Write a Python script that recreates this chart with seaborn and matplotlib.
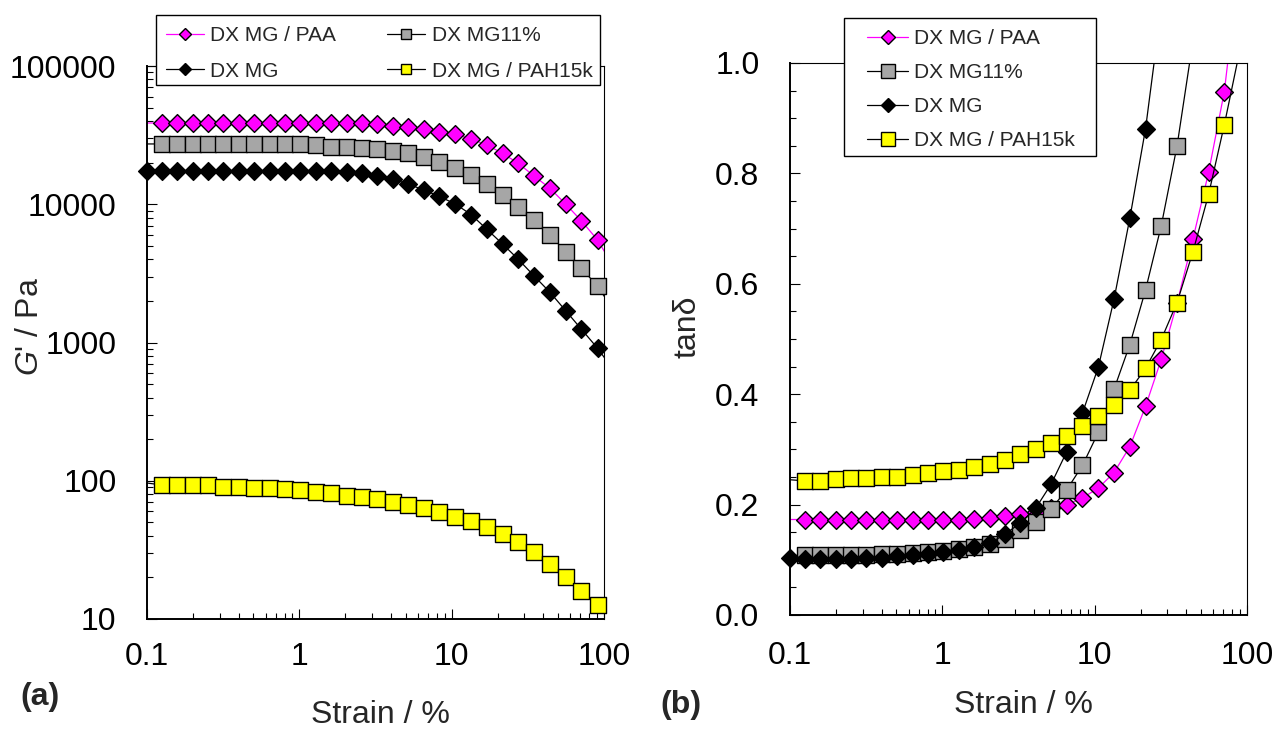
import numpy as np
import matplotlib
matplotlib.use("Agg")
import matplotlib.pyplot as plt
import seaborn as sns
from matplotlib.lines import Line2D
from matplotlib.patches import Rectangle
from matplotlib.ticker import LogLocator, MultipleLocator, NullFormatter

# ---------------- data ----------------
strain = [0.1, 0.1253, 0.1581, 0.1995, 0.2518, 0.3177, 0.4009, 0.5058, 0.6383, 0.8054,
          1.016, 1.282, 1.618, 2.042, 2.576, 3.251, 4.093, 5.176, 6.561, 8.318,
          10.57, 13.40, 17.02, 21.58, 27.35, 34.75, 44.16, 55.98, 70.96, 90.8, 114.3]

labels = ["DX MG / PAA", "DX MG11%", "DX MG", "DX MG / PAH15k"]

# storage modulus G' (Pa), panel (a)
gp_paa = [38700, 38700, 38700, 38700, 38700, 38700, 38700, 38700, 38700, 38700,
          38700, 38700, 38700, 38700, 38700, 38060, 36810, 36020, 34840, 33470,
          32060, 29650, 26830, 23360, 19780, 16010, 13050, 10040, 7600, 5510, 3600]
gp_mg11 = [27300, 27300, 27300, 27300, 27300, 27300, 27300, 27300, 27300, 27300,
           27300, 26700, 26100, 26000, 25700, 25100, 24400, 23400, 21900, 20300,
           18400, 16300, 13900, 11700, 9600, 7700, 6000, 4540, 3440, 2560, 1730]
gp_mg = [17540, 17540, 17540, 17540, 17540, 17540, 17540, 17540, 17540, 17540,
         17540, 17540, 17540, 17250, 16830, 16140, 15230, 14010, 12680, 11380,
         10040, 8430, 6590, 5160, 4000, 3030, 2310, 1700, 1250, 908, 640]
gp_pah = [96.3, 93.2, 93.2, 93.2, 93.2, 90.6, 90.6, 89.1, 88.2, 86.7,
          85.3, 83.3, 81.2, 78.0, 75.9, 73.4, 70.2, 66.8, 63.2, 59.1,
          55.0, 51.2, 46.5, 41.2, 36.1, 30.4, 24.9, 20.0, 15.9, 12.6]

# loss tangent, panel (b)
tan_paa = [0.173, 0.173, 0.173, 0.173, 0.173, 0.173, 0.173, 0.173, 0.173, 0.173,
           0.173, 0.173, 0.174, 0.176, 0.180, 0.183, 0.187, 0.193, 0.200, 0.212,
           0.230, 0.258, 0.305, 0.378, 0.463, 0.565, 0.681, 0.802, 0.948, 1.20]
tan_mg11 = [0.108, 0.108, 0.109, 0.109, 0.109, 0.109, 0.111, 0.111, 0.112, 0.114,
            0.116, 0.120, 0.123, 0.129, 0.138, 0.154, 0.168, 0.192, 0.227, 0.271,
            0.331, 0.409, 0.490, 0.589, 0.705, 0.850, 1.04]
tan_mg = [0.103, 0.101, 0.101, 0.102, 0.101, 0.103, 0.104, 0.106, 0.108, 0.111,
          0.114, 0.118, 0.123, 0.130, 0.146, 0.167, 0.193, 0.237, 0.296, 0.366,
          0.449, 0.572, 0.719, 0.881, 1.10]
tan_pah = [0.245, 0.243, 0.243, 0.246, 0.249, 0.248, 0.250, 0.250, 0.253, 0.257,
           0.260, 0.263, 0.268, 0.274, 0.281, 0.291, 0.300, 0.311, 0.324, 0.342,
           0.360, 0.380, 0.407, 0.447, 0.499, 0.566, 0.658, 0.762, 0.888, 1.03]

x_ticks = [0.1, 1, 10, 100]
x_ticklabels = ["0.1", "1", "10", "100"]
ya_ticks = [10, 100, 1000, 10000, 100000]
ya_ticklabels = ["10", "100", "1000", "10000", "100000"]
yb_ticks = [0.0, 0.2, 0.4, 0.6, 0.8, 1.0]
yb_ticklabels = ["0.0", "0.2", "0.4", "0.6", "0.8", "1.0"]

# ---------------- style ----------------
sns.set_style("ticks")
plt.rcParams['font.family'] = ['Liberation Sans', 'DejaVu Sans']
plt.rcParams['mathtext.fontset'] = 'custom'
plt.rcParams['mathtext.it'] = 'Liberation Sans:italic'
plt.rcParams['mathtext.rm'] = 'Liberation Sans'

styles = {
    "DX MG / PAA":    dict(lc="#FF00FF", m="D", fc="#FF00FF", s=82, lmsA=6.6, lmsB=7.4, first=1),
    "DX MG11%":       dict(lc="black",   m="s", fc="#A6A6A6", s=125, lmsA=7.2, lmsB=9.6, first=1),
    "DX MG":          dict(lc="black",   m="D", fc="black",   s=82, lmsA=6.6, lmsB=7.4, first=0),
    "DX MG / PAH15k": dict(lc="black",   m="s", fc="#FFFF00", s=125, lmsA=7.2, lmsB=9.6, first=1),
}

W, H = 1275, 731
fig = plt.figure(figsize=(W / 100, H / 100), dpi=100)
fig.patch.set_facecolor("white")

def fx(px):
    return px / W

def fy(py):
    return 1 - py / H

axA = fig.add_axes([fx(147), fy(619), fx(604) - fx(147), fy(66) - fy(619)])
axB = fig.add_axes([fx(790), fy(615), fx(1247) - fx(790), fy(63) - fy(615)])

for ax in (axA, axB):
    ax.set_xscale("log")
axA.set_yscale("log")

def draw(ax, name, vals, z, ymax):
    st = styles[name]
    xs = np.array(strain[:len(vals)], dtype=float)
    ys = np.array(vals, dtype=float)
    sns.lineplot(x=xs, y=ys, ax=ax, color=st["lc"], linewidth=0.9,
                 estimator=None, sort=False, legend=False, zorder=z)
    idx = np.arange(len(ys))
    mask = (idx >= st["first"]) & (xs <= 100) & (ys <= ymax)
    sns.scatterplot(x=xs[mask], y=ys[mask], ax=ax, marker=st["m"], s=st["s"],
                    color=st["fc"], edgecolor="black", linewidth=1.0,
                    clip_on=False, zorder=z + 1, legend=False)

seriesA = [("DX MG / PAA", gp_paa), ("DX MG11%", gp_mg11), ("DX MG", gp_mg), ("DX MG / PAH15k", gp_pah)]
seriesB = [("DX MG / PAA", tan_paa), ("DX MG11%", tan_mg11), ("DX MG", tan_mg), ("DX MG / PAH15k", tan_pah)]

for i, (n, v) in enumerate(seriesA):
    draw(axA, n, v, 2 + 2 * i, 1e5)
for i, (n, v) in enumerate(seriesB):
    draw(axB, n, v, 2 + 2 * i, 1.0)

axA.set_xlim(0.1, 100)
axA.set_ylim(10, 100000)
axB.set_xlim(0.1, 100)
axB.set_ylim(0.0, 1.0)

for ax in (axA, axB):
    ax.set_xticks(x_ticks)
    ax.set_xticklabels(x_ticklabels)
    ax.xaxis.set_minor_locator(LogLocator(base=10, subs=np.arange(2, 10)))
    ax.xaxis.set_minor_formatter(NullFormatter())
    for side in ("left", "bottom"):
        ax.spines[side].set_linewidth(1.4)
        ax.spines[side].set_color("black")
    for side in ("top", "right"):
        ax.spines[side].set_linewidth(0.8)
        ax.spines[side].set_color("black")
    ax.tick_params(which="both", direction="in", top=False, right=False,
                   color="black", width=0.8, labelsize=23, labelcolor="black")
    ax.tick_params(which="major", length=7)
    ax.tick_params(which="minor", length=4.3)
    ax.tick_params(axis="y", which="major", pad=22)
    ax.set_facecolor("white")

axA.tick_params(axis="x", which="major", pad=16.5)
axB.tick_params(axis="x", which="major", pad=19)

axA.set_yticks(ya_ticks)
axA.set_yticklabels(ya_ticklabels)
axA.yaxis.set_minor_locator(LogLocator(base=10, subs=np.arange(2, 10)))
axA.yaxis.set_minor_formatter(NullFormatter())

axB.set_yticks(yb_ticks)
axB.set_yticklabels(yb_ticklabels)
axB.yaxis.set_minor_locator(MultipleLocator(0.05))

# axis labels
axA.set_xlabel("Strain / %", fontsize=23)
axA.set_ylabel(r"$G$' / Pa", fontsize=23)
axB.set_xlabel("Strain / %", fontsize=23)
axB.set_ylabel("tanδ", fontsize=23)
for ax in (axA, axB):
    ax.xaxis.label.set_va("center")
    ax.yaxis.label.set_va("center")
axA.xaxis.set_label_coords((380 - 147) / 457, (619 - 715) / 553)
axA.yaxis.set_label_coords((30 - 147) / 457, (619 - 327) / 553)
axB.xaxis.set_label_coords((1023 - 790) / 457, (615 - 705) / 552)
axB.yaxis.set_label_coords((687 - 790) / 457, (615 - 327) / 552)

fig.text(fx(40), fy(697), "(a)", fontsize=23, fontweight="bold", ha="center", va="center")
fig.text(fx(681), fy(705), "(b)", fontsize=23, fontweight="bold", ha="center", va="center")

# legends
def handle(name, key):
    st = styles[name]
    return Line2D([0], [0], color=st["lc"], lw=0.9, marker=st["m"], markersize=st[key],
                  markerfacecolor=st["fc"], markeredgecolor="black", markeredgewidth=1.0)

fig.add_artist(Rectangle((fx(156), fy(85)), fx(600) - fx(156), fy(15) - fy(85),
                         transform=fig.transFigure, facecolor="white", edgecolor="black",
                         lw=1.0, zorder=4.5))
orderA = ["DX MG / PAA", "DX MG", "DX MG11%", "DX MG / PAH15k"]
legA = fig.legend(handles=[handle(n, "lmsA") for n in orderA], labels=orderA, ncol=2,
                  loc="upper left", bbox_to_anchor=(fx(166), fy(26)),
                  frameon=False, borderpad=0, borderaxespad=0, fontsize=15,
                  handlelength=1.83, handletextpad=0.3, columnspacing=2.45,
                  labelspacing=0.8)
legA.set_zorder(5)

fig.add_artist(Rectangle((fx(844), fy(156)), fx(1096) - fx(844), fy(18) - fy(156),
                         transform=fig.transFigure, facecolor="white", edgecolor="black",
                         lw=1.0, zorder=4.5))
orderB = ["DX MG / PAA", "DX MG11%", "DX MG", "DX MG / PAH15k"]
legB = fig.legend(handles=[handle(n, "lmsB") for n in orderB], labels=orderB, ncol=1,
                  loc="upper left", bbox_to_anchor=(fx(867), fy(29)),
                  frameon=False, borderpad=0, borderaxespad=0, fontsize=15,
                  handlelength=1.97, handletextpad=0.3, labelspacing=0.72)
legB.set_zorder(5)

fig.savefig("out.png", dpi=100, facecolor="white")
